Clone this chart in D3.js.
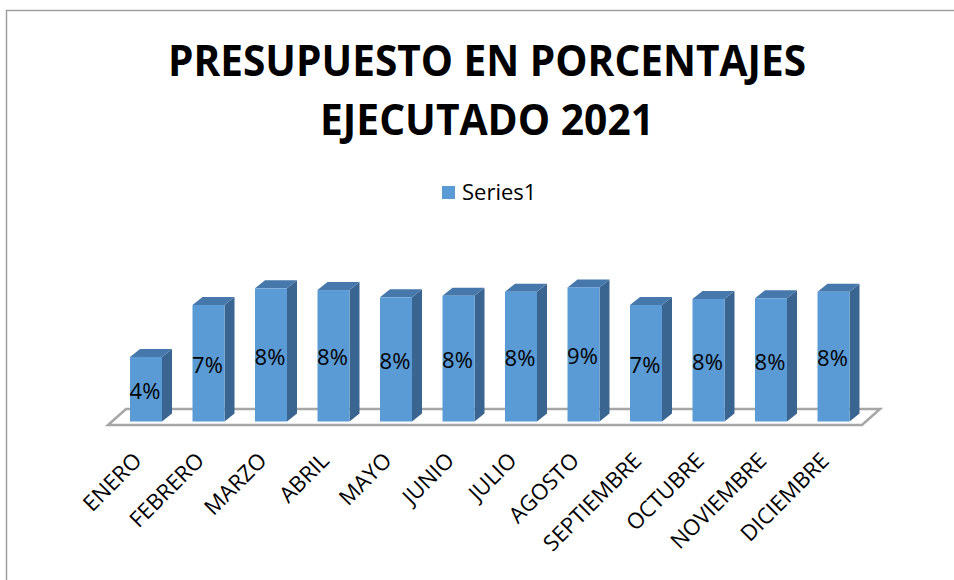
<!DOCTYPE html>
<html>
<head>
    <meta charset="utf-8">
    <title>Presupuesto 2021</title>
    <script src="https://d3js.org/d3.v7.min.js"></script>
    <style>
        body { margin: 0; background: #fff; }
        svg { display: block; font-family: "Open Sans", "Noto Sans", sans-serif; }
    </style>
</head>
<body>
    <svg id="chart" width="954" height="580"></svg>
    <script>
        // data (percent of budget executed per month)
        const months = ["ENERO", "FEBRERO", "MARZO", "ABRIL", "MAYO", "JUNIO", "JULIO",
            "AGOSTO", "SEPTIEMBRE", "OCTUBRE", "NOVIEMBRE", "DICIEMBRE"];
        const values = [4.1, 7.4, 8.46, 8.35, 7.89, 7.99, 8.25, 8.52, 7.4, 7.78, 7.83, 8.25];
        const seriesName = "Series1";
        const titleLines = ["PRESUPUESTO EN PORCENTAJES", "EJECUTADO 2021"];

        const svg = d3.select("#chart");
        const frontColor = "#5b9bd5";
        const topColor = "#4778ab";
        const sideColor = "#3a6590";

        // chart border (only top/left visible in the picture)
        svg.append("path")
            .attr("d", "M6.5,580 L6.5,10.5 L954,10.5")
            .attr("fill", "none")
            .attr("stroke", "#a0a0a0")
            .attr("stroke-width", 1.5);

        // title
        const titleWidths = [638, 334];
        svg.selectAll(".title")
            .data(titleLines)
            .enter().append("text")
            .attr("class", "title")
            .attr("x", 487)
            .attr("y", (d, i) => 76 + i * 59)
            .attr("text-anchor", "middle")
            .attr("font-size", 43)
            .attr("font-weight", "bold")
            .attr("textLength", (d, i) => titleWidths[i])
            .attr("lengthAdjust", "spacingAndGlyphs")
            .text(d => d);

        // legend
        svg.append("rect")
            .attr("x", 442).attr("y", 186)
            .attr("width", 13).attr("height", 13)
            .attr("fill", frontColor);
        svg.append("text")
            .attr("x", 462).attr("y", 200)
            .attr("font-size", 22)
            .text(seriesName);

        // scales
        const x = d3.scaleBand()
            .domain(months)
            .range([114.75, 864.75])
            .paddingInner(0.488)
            .paddingOuter(0.244);

        const y = d3.scaleLinear()
            .domain([0, 10])
            .range([421.5, 264.1]);

        const depthX = 10, depthY = 8;

        // floor
        const floorFront = 425, floorBack = 409, floorShift = 18;
        svg.append("path")
            .attr("d", `M108,${floorFront} L862,${floorFront} L${862 + floorShift},${floorBack} L${108 + floorShift},${floorBack} Z`)
            .attr("fill", "#fff")
            .attr("stroke", "#a6a6a6")
            .attr("stroke-width", 2.5);

        // bars
        const bars = svg.append("g").selectAll("g")
            .data(months.map((m, i) => ({ month: m, value: values[i] })))
            .enter().append("g");

        bars.append("path")
            .attr("fill", sideColor)
            .attr("d", d => {
                const x1 = x(d.month) + x.bandwidth();
                const y0 = y(0), y1 = y(d.value);
                return `M${x1},${y0} L${x1 + depthX},${y0 - depthY} L${x1 + depthX},${y1 - depthY} L${x1},${y1} Z`;
            });

        bars.append("path")
            .attr("fill", topColor)
            .attr("d", d => {
                const x0 = x(d.month), x1 = x0 + x.bandwidth();
                const y1 = y(d.value);
                return `M${x0},${y1} L${x0 + depthX},${y1 - depthY} L${x1 + depthX},${y1 - depthY} L${x1},${y1} Z`;
            });

        bars.append("rect")
            .attr("fill", frontColor)
            .attr("x", d => x(d.month))
            .attr("y", d => y(d.value))
            .attr("width", x.bandwidth())
            .attr("height", d => y(0) - y(d.value));

        // data labels
        bars.append("text")
            .attr("x", d => x(d.month) + x.bandwidth() / 2 - 1)
            .attr("y", d => (y(0) + y(d.value)) / 2 + 2)
            .attr("dy", "0.35em")
            .attr("text-anchor", "middle")
            .attr("font-size", 22)
            .text(d => Math.round(d.value) + "%");

        // category axis, rotated labels
        const xAxis = d3.axisBottom(x).tickSize(0);
        const axisG = svg.append("g")
            .attr("transform", "translate(0,462)")
            .call(xAxis);
        axisG.select(".domain").remove();
        axisG.selectAll("text")
            .attr("x", 0).attr("y", 0).attr("dy", 0)
            .attr("font-family", "Open Sans, Noto Sans, sans-serif")
            .attr("font-size", 22)
            .attr("fill", "#000")
            .attr("text-anchor", "end")
            .attr("transform", "translate(-3,0) rotate(-45)");
    </script>
</body>
</html>
